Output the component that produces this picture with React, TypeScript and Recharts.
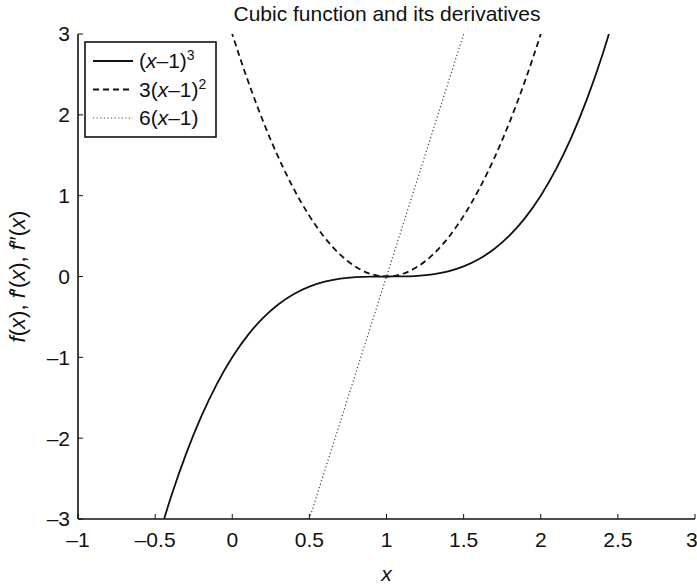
import { LineChart, Line, XAxis, YAxis, Label } from 'recharts';

const FONT = 'Liberation Sans, Arial, Helvetica, sans-serif';
const FS = 21;

// sample x positions and read-off values
const cubicX = [-0.5, -0.4, -0.3, -0.2, -0.1, 0, 0.1, 0.2, 0.3, 0.4, 0.5, 0.6, 0.7, 0.8, 0.9, 1, 1.1, 1.2, 1.3, 1.4, 1.5, 1.6, 1.7, 1.8, 1.9, 2, 2.1, 2.2, 2.3, 2.4, 2.5];
const cubicY = [-3.375, -2.744, -2.197, -1.728, -1.331, -1, -0.729, -0.512, -0.343, -0.216, -0.125, -0.064, -0.027, -0.008, -0.001, 0, 0.001, 0.008, 0.027, 0.064, 0.125, 0.216, 0.343, 0.512, 0.729, 1, 1.331, 1.728, 2.197, 2.744, 3.375];

const squareX = [-0.1, 0, 0.1, 0.2, 0.3, 0.4, 0.5, 0.6, 0.7, 0.8, 0.9, 1, 1.1, 1.2, 1.3, 1.4, 1.5, 1.6, 1.7, 1.8, 1.9, 2, 2.1];
const squareY = [3.63, 3, 2.43, 1.92, 1.47, 1.08, 0.75, 0.48, 0.27, 0.12, 0.03, 0, 0.03, 0.12, 0.27, 0.48, 0.75, 1.08, 1.47, 1.92, 2.43, 3, 3.63];

const linearX = [0.5, 1, 1.5];
const linearY = [-3, 0, 3];

const xTicks = [-1, -0.5, 0, 0.5, 1, 1.5, 2, 2.5, 3];
const yTicks = [-3, -2, -1, 0, 1, 2, 3];

const zip = (xs: number[], ys: number[]) => xs.map((x, i) => ({ x, y: ys[i] }));
const cubicData = zip(cubicX, cubicY);
const squareData = zip(squareX, squareY);
const linearData = zip(linearX, linearY);

const fmt = (v: number) => String(v).replace('-', '\u2013');
const tickStyle = { fill: '#111', fontSize: FS, fontFamily: FONT };
const noTick = () => <g />;

function YTitle(props: any) {
  const vb = props.viewBox || { x: 0, y: 34, width: 78, height: 485 };
  const cx = vb.x + 25;
  const cy = vb.y + vb.height / 2;
  return (
    <text x={cx} y={cy} transform={`rotate(-90, ${cx}, ${cy})`} textAnchor="middle" fontSize={22} fontFamily={FONT} fill="#111">
      <tspan fontStyle="italic">f</tspan>(<tspan fontStyle="italic">x</tspan>),{' '}
      <tspan fontStyle="italic">f</tspan>′(<tspan fontStyle="italic">x</tspan>),{' '}
      <tspan fontStyle="italic">f</tspan>″(<tspan fontStyle="italic">x</tspan>)
    </text>
  );
}

function XTitle(props: any) {
  const vb = props.viewBox || { x: 78, y: 519, width: 617, height: 67 };
  return (
    <text x={vb.x + vb.width / 2} y={vb.y + 62} textAnchor="middle" fontSize={FS} fontFamily={FONT} fontStyle="italic" fill="#111">
      x
    </text>
  );
}

function TitleOverlay() {
  return (
    <svg width={697} height={34} style={{ position: 'absolute', left: 0, top: 0 }}>
      <text x={387} y={21} textAnchor="middle" fontSize={FS} fontFamily={FONT} fill="#111">
        Cubic function and its derivatives
      </text>
    </svg>
  );
}

function LegendBox() {
  const rows = [
    { dash: undefined, color: '#111', w: 2, base: '(', x: 'x', rest: '–1)', sup: '3' },
    { dash: '6 4', color: '#111', w: 2, base: '3(', x: 'x', rest: '–1)', sup: '2' },
    { dash: '1.2 2.4', color: '#444', w: 1.2, base: '6(', x: 'x', rest: '–1)', sup: '' },
  ];
  return (
    <svg width={133} height={97} style={{ position: 'absolute', left: 84, top: 41 }}>
      <rect x={1} y={1} width={131} height={95} fill="#fff" stroke="#111" strokeWidth={1.6} />
      {rows.map((r, i) => {
        const cy = 20 + i * 28.5;
        return (
          <g key={i}>
            <line x1={9} x2={49} y1={cy} y2={cy} stroke={r.color} strokeWidth={r.w} strokeDasharray={r.dash} />
            <text x={55} y={cy + 7} fontSize={FS} fontFamily={FONT} fill="#111">
              {r.base}
              <tspan fontStyle="italic">{r.x}</tspan>
              {r.rest}
              {r.sup && (
                <tspan dy={-8} fontSize={14}>
                  {r.sup}
                </tspan>
              )}
            </text>
          </g>
        );
      })}
    </svg>
  );
}

export default function App() {
  return (
    <div style={{ position: 'absolute', left: 0, top: 0, width: 697, height: 586, background: '#fff' }}>
      <LineChart width={697} height={586} margin={{ top: 34, right: 2, bottom: 0, left: 0 }}>
        <XAxis
          xAxisId={0}
          type="number"
          dataKey="x"
          domain={[-1, 3]}
          ticks={xTicks}
          allowDataOverflow
          height={67}
          tickSize={-5}
          tickMargin={18}
          tickFormatter={fmt}
          tick={tickStyle}
          axisLine={{ stroke: '#111', strokeWidth: 1.6 }}
          tickLine={{ stroke: '#111', strokeWidth: 1 }}
        >
          <Label content={<XTitle />} />
        </XAxis>
        <XAxis
          xAxisId="top"
          orientation="top"
          type="number"
          dataKey="x"
          domain={[-1, 3]}
          ticks={xTicks}
          allowDataOverflow
          height={0}
          tickSize={-5}
          tick={noTick}
          axisLine={{ stroke: '#111', strokeWidth: 1.6 }}
          tickLine={{ stroke: '#111', strokeWidth: 1 }}
        />
        <YAxis
          yAxisId={0}
          type="number"
          domain={[-3, 3]}
          ticks={yTicks}
          allowDataOverflow
          width={78}
          tickSize={-5}
          tickMargin={13}
          tickFormatter={fmt}
          tick={tickStyle}
          axisLine={{ stroke: '#111', strokeWidth: 1.6 }}
          tickLine={{ stroke: '#111', strokeWidth: 1 }}
        >
          <Label content={<YTitle />} />
        </YAxis>
        <YAxis
          yAxisId="right"
          orientation="right"
          type="number"
          domain={[-3, 3]}
          ticks={yTicks}
          allowDataOverflow
          width={0}
          tickSize={-5}
          tick={noTick}
          axisLine={{ stroke: '#111', strokeWidth: 1.6 }}
          tickLine={{ stroke: '#111', strokeWidth: 1 }}
        />
        <Line data={linearData} dataKey="y" type="linear" stroke="#444" strokeWidth={1.2} strokeDasharray="1.2 2.4" dot={false} isAnimationActive={false} />
        <Line data={squareData} dataKey="y" type="monotone" stroke="#111" strokeWidth={1.8} strokeDasharray="6 4" dot={false} isAnimationActive={false} />
        <Line data={cubicData} dataKey="y" type="monotone" stroke="#111" strokeWidth={1.8} dot={false} isAnimationActive={false} />
      </LineChart>
      <TitleOverlay />
      <LegendBox />
    </div>
  );
}
